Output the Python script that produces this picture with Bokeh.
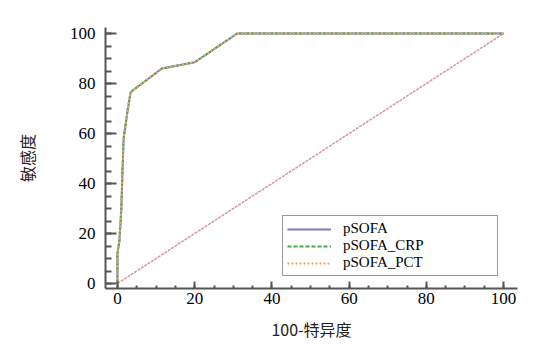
from bokeh.plotting import figure
from bokeh.models import Legend, LegendItem, SingleIntervalTicker, Range1d
from bokeh.embed import file_html
from bokeh.resources import INLINE

# ROC curves (100 - specificity, sensitivity)
fpr_psofa = [0, 0, 0.5, 1.0, 1.3, 1.6, 2.5, 3.4, 4.2, 11.5, 20, 31, 100]
tpr_psofa = [0, 12, 17, 30, 45, 58, 68, 76.5, 77.5, 86, 88.5, 100, 100]
fpr_crp = [0, 0, 0.5, 1.0, 1.3, 1.6, 2.5, 3.4, 4.2, 11.5, 20, 31, 100]
tpr_crp = [0, 12, 17, 30, 45, 58, 68, 76.5, 77.5, 86, 88.5, 100, 100]
fpr_pct = [0, 0, 0.5, 1.0, 1.3, 1.6, 2.5, 3.4, 4.2, 11.5, 20, 31, 100]
tpr_pct = [0, 12, 17, 30, 45, 58, 68, 76.5, 77.5, 86, 88.5, 100, 100]
ref_x = [0, 100]
ref_y = [0, 100]
series_names = ["pSOFA", "pSOFA_CRP", "pSOFA_PCT"]

p = figure(width=539, height=347, output_backend="svg", toolbar_location=None,
           x_range=Range1d(-3.1, 103.6), y_range=Range1d(-2, 102.4),
           min_border_left=105, min_border_right=22, min_border_top=27, min_border_bottom=59)
p.outline_line_color = None
p.xgrid.visible = False
p.ygrid.visible = False
p.background_fill_color = "white"
p.border_fill_color = "white"

p.line(ref_x, ref_y, line_color="#d8959e", line_width=1.5, line_dash="3 1")
r1 = p.line(fpr_psofa, tpr_psofa, line_color="#7a7ac4", line_width=2)
r2 = p.line(fpr_crp, tpr_crp, line_color="#4aa84a", line_width=2, line_dash="4 2")
r3 = p.line(fpr_pct, tpr_pct, line_color="#f0a868", line_width=2, line_dash="2 2")

serif = "Liberation Serif"
cjk = "Noto Sans CJK SC"

p.axis.ticker = SingleIntervalTicker(interval=20, num_minor_ticks=4)
p.axis.axis_line_color = "#555555"
p.axis.axis_line_width = 2
p.axis.major_tick_line_color = "#555555"
p.axis.minor_tick_line_color = "#555555"
p.axis.major_tick_line_width = 2
p.axis.minor_tick_line_width = 2
p.axis.major_tick_out = 0
p.axis.minor_tick_out = 0
p.axis.major_label_text_font = "serif"
p.axis.major_label_text_font_size = "17px"
p.axis.major_label_text_font_style = "normal"
p.axis.major_label_text_color = "black"
p.axis.axis_label_text_font = cjk
p.axis.axis_label_text_font_size = "16px"
p.axis.axis_label_text_font_style = "normal"
p.axis.axis_label_text_color = "#222222"

p.xaxis.major_tick_in = 7
p.xaxis.minor_tick_in = 3
p.yaxis.major_tick_in = 11
p.yaxis.minor_tick_in = 6
p.xaxis.major_label_standoff = 4
p.yaxis.major_label_standoff = 10
p.xaxis.axis_label = "100-特异度"
p.yaxis.axis_label = "敏感度"
p.xaxis.axis_label_standoff = 10
p.yaxis.axis_label_standoff = 28

legend = Legend(items=[LegendItem(label=series_names[0], renderers=[r1]),
                       LegendItem(label=series_names[1], renderers=[r2]),
                       LegendItem(label=series_names[2], renderers=[r3])],
                location=(177, 12), margin=0, padding=4, spacing=0,
                glyph_width=44, glyph_height=14, label_height=14, label_width=150,
                label_standoff=12, label_text_font=serif, label_text_font_size="15px",
                label_text_line_height=0.9,
                label_text_color="black", border_line_color="#333333", border_line_width=1.5,
                background_fill_alpha=1.0)
p.add_layout(legend, "center")

open("out.html", "w").write(file_html(p, INLINE))
